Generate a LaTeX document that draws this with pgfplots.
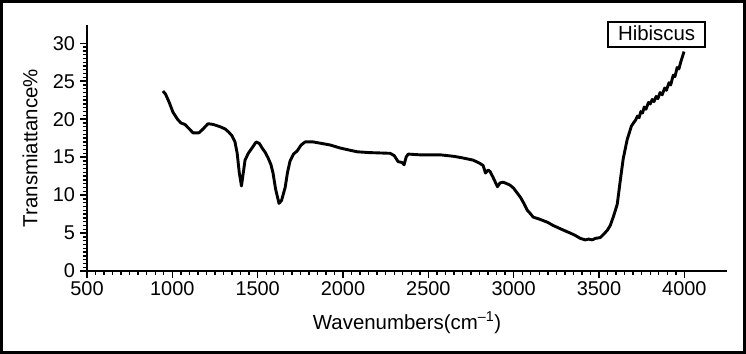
\documentclass[border=0pt]{standalone}
\usepackage{pgfplots}
\pgfplotsset{compat=1.18}
\usepackage{fontspec}
\setmainfont{Liberation Sans}
\usetikzlibrary{calc}
\begin{document}
\begin{tikzpicture}
\begin{axis}[
  name=ax,
  scale only axis,
  width=640bp, height=246bp,
  xmin=500, xmax=4250, ymin=0, ymax=32.4,
  axis lines=left,
  axis line style={line width=2.2bp, -},
  xtick={500,1000,...,4000},
  ytick={0,5,...,30},
  minor x tick num=9,
  minor y tick num=9,
  tick align=outside,
  major tick length=6.5bp,
  minor tick length=4bp,
  every tick/.style={black, line width=1.4bp},
  tick label style={font=\fontsize{20}{22}\selectfont},
  /pgf/number format/assume math mode=true,
  /pgf/number format/1000 sep={},
  xticklabel style={yshift=-1bp},
  yticklabel style={xshift=-2bp},
  xlabel={Wavenumbers(cm\textsuperscript{\raisebox{0.1ex}{--1}})},
  ylabel={Transmiattance\%},
  label style={font=\fontsize{20.5}{22}\selectfont},
  xlabel style={at={(axis description cs:0.5,-0.211)}, anchor=center},
  ylabel style={at={(axis description cs:-0.089,0.5)}, anchor=center},
  legend style={at={(rel axis cs:0.890,0.962)}, anchor=center, draw=black, line width=1.6bp,
    font=\fontsize{20.5}{22}\selectfont, inner xsep=8bp, inner ysep=2.5bp, legend cell align=center},
  legend image code/.code={},
  clip=false,
]
\addplot[black, line width=2.9bp, line join=round] coordinates {
(945,23.7)(960,23.3)(980,22.3)(1004,20.9)(1030,20.0)(1050,19.5)(1074,19.3)(1100,18.7)
(1121,18.2)(1156,18.2)(1180,18.7)(1209,19.4)(1240,19.3)(1280,19.0)(1310,18.7)(1330,18.3)
(1350,17.8)(1367,17.0)(1380,15.5)(1392,13.0)(1405,11.2)(1415,12.8)(1426,14.6)(1445,15.5)
(1470,16.3)(1491,17.0)(1510,16.8)(1526,16.2)(1545,15.6)(1561,14.9)(1578,14.0)(1590,12.9)
(1605,10.8)(1625,8.9)(1640,9.3)(1661,11.0)(1675,13.0)(1690,14.5)(1710,15.4)(1731,15.8)
(1755,16.6)(1778,17.0)(1825,17.0)(1924,16.6)(1983,16.2)(2042,15.9)(2083,15.7)(2150,15.6)
(2276,15.5)(2300,15.2)(2323,14.4)(2345,14.3)(2358,14.0)(2370,15.0)(2382,15.4)(2450,15.3)
(2569,15.3)(2650,15.1)(2700,14.9)(2763,14.6)(2800,14.2)(2821,13.9)(2835,12.9)(2850,13.3)
(2862,13.1)(2880,12.3)(2905,11.1)(2920,11.6)(2938,11.7)(2960,11.5)(2979,11.3)(3000,10.9)
(3020,10.3)(3040,9.7)(3060,8.9)(3080,8.0)(3100,7.5)(3114,7.1)(3155,6.8)(3200,6.4)
(3231,6.0)(3270,5.6)(3300,5.3)(3331,5.0)(3360,4.7)(3390,4.3)(3419,4.1)(3440,4.2)
(3460,4.1)(3480,4.3)(3507,4.4)(3530,4.9)(3550,5.4)(3566,6.0)(3585,7.2)(3607,8.8)
(3624,11.8)(3642,14.8)(3665,17.3)(3690,19.1)(3705,19.6)(3715,19.9)(3725,20.4)(3735,20.2)
(3745,21.0)(3755,20.8)(3765,21.6)(3775,21.3)(3790,22.2)(3800,22.0)(3812,22.6)(3822,22.3)
(3835,23.0)(3845,22.7)(3858,23.5)(3870,23.2)(3885,24.1)(3895,23.8)(3910,24.8)(3920,24.5)
(3935,25.8)(3945,25.6)(3958,26.8)(3968,26.6)(3980,27.6)(3990,28.3)(3998,28.9)
};
\addlegendentry{Hibiscus}
\end{axis}
\draw[line width=3bp] ($(ax.south west)+(-85.5bp,-81.5bp)$) rectangle ($(ax.south west)+(657.5bp,269.5bp)$);
\end{tikzpicture}
\end{document}
